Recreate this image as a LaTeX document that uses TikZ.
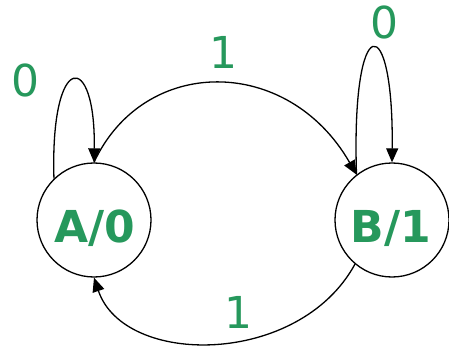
\documentclass[tikz,border=0pt]{standalone}
\usepackage{fontspec}
\setmainfont{DejaVu Sans}
\usetikzlibrary{arrows.meta}
\definecolor{lblgreen}{RGB}{38,152,92}
\begin{document}
\begin{tikzpicture}[x=1pt,y=-1pt,
  state/.style={circle,draw=black,line width=1.3pt,minimum size=114pt,inner sep=0pt},
  statetext/.style={text=lblgreen,font=\fontsize{44}{48}\selectfont\bfseries},
  lbl/.style={text=lblgreen,font=\fontsize{44}{48}\selectfont,inner sep=0pt,anchor=base},
  edge/.style={line width=1.3pt,-{Triangle[length=14pt,width=12pt]}}]
\useasboundingbox (0,0) rectangle (449,347);
\node[state] (A) at (94,220) {};
\node[state] (B) at (392,220) {};
\node[statetext,anchor=base,inner sep=0pt] (At) at (95,242) {A/0};
\node[statetext,anchor=base,inner sep=0pt] (Bt) at (391,242) {B/1};
% self loops
\draw[edge] (A.134) .. controls (50,50) and (96,50) .. (A.north);
\draw[edge] (B.128) .. controls (351,8) and (394,8) .. (B.north);
% transitions
\draw[edge] (A.north) .. controls (144,55) and (288,55) .. (B.128);
\draw[edge] (B.-130) .. controls (299,367) and (124,367) .. (A.south);
% labels
\node[lbl] (l0a) at (25,97) {0};
\node[lbl] (l1t) at (223,69) {1};
\node[lbl] (l0b) at (384,39) {0};
\node[lbl] (l1b) at (238,328) {1};
\end{tikzpicture}
\end{document}
